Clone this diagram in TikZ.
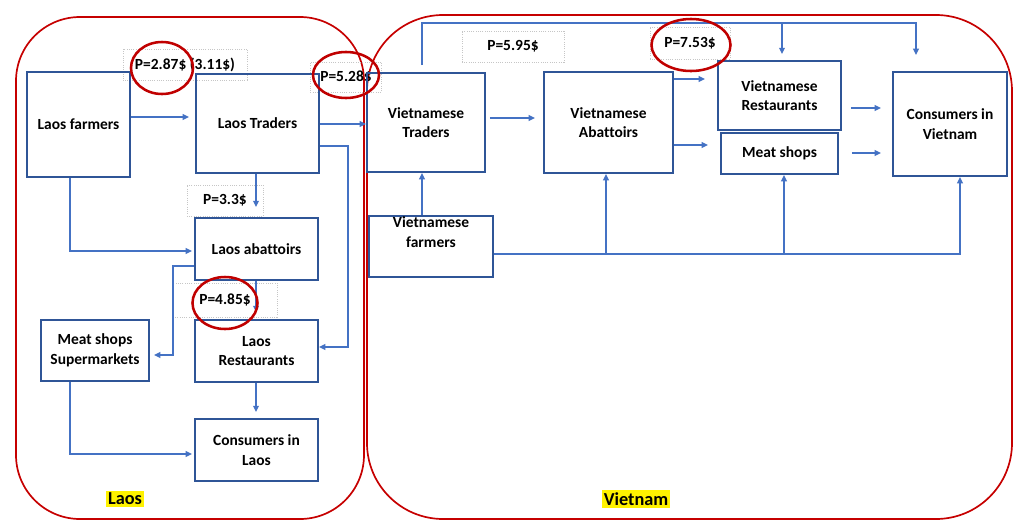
\documentclass[tikz,border=0pt]{standalone}
\usepackage{fontspec}
\setmainfont{Carlito}[Ligatures=NoCommon]
\usetikzlibrary{arrows.meta,shapes.geometric}
\definecolor{boxblue}{HTML}{2F5597}
\definecolor{linkblue}{HTML}{4472C4}
\definecolor{ringred}{HTML}{C00000}
\begin{document}
\begin{tikzpicture}[x=0.025cm,y=-0.025cm,
 box/.style={draw=boxblue,line width=1.3pt,align=center,font=\fontsize{11}{14}\selectfont\bfseries,inner sep=0pt},
 price/.style={draw=gray!45,densely dotted,line width=0.6pt,font=\fontsize{11}{14}\selectfont\bfseries,inner sep=0pt},
 ring/.style={draw=ringred,ellipse,line width=1.8pt,inner sep=0pt},
 conn/.style={draw=linkblue,line width=1pt,-{Triangle[length=4.5pt,width=4pt]}},
 frame/.style={draw=ringred!90!red,line width=1.2pt,rounded corners=#1},
 region/.style={fill=yellow,inner sep=1.5pt,font=\fontsize{13}{15}\selectfont\bfseries}]
 \useasboundingbox (0,0) rectangle (1015,521);

	\draw[frame=1.6cm] (16,17) rectangle (364,519);
	\draw[frame=1.9cm] (367,15) rectangle (1012,519);

	\node[price,minimum width=3.1cm,minimum height=0.775cm] (p1) at (185,64.5) {P=2.87\$ (3.11\$)};
	\node[price,minimum width=1.775cm,minimum height=0.75cm] (p2) at (346,77) {P=5.28\$};
	\node[price,minimum width=1.9cm,minimum height=0.775cm] (p3) at (225,200.5) {P=3.3\$};
	\node[price,minimum width=2.6cm,minimum height=0.85cm] (p4) at (225,300) {P=4.85\$};
	\node[price,minimum width=2.55cm,minimum height=0.775cm] (p5) at (513,46.5) {P=5.95\$};
	\node[price,minimum width=2cm,minimum height=0.8cm] (p6) at (690,43) {P=7.53\$};

	\node[box,minimum width=2.575cm,minimum height=2.625cm] (lf) at (78.5,124.5) {Laos farmers};
	\node[box,minimum width=3.075cm,minimum height=2.475cm] (lt) at (257.5,123.5) {Laos Traders};
	\node[box,minimum width=3.075cm,minimum height=1.55cm] (la) at (256.5,249) {Laos abattoirs};
	\node[box,minimum width=2.7cm,minimum height=1.525cm] (lm) at (95,350.5) {Meat shops\\Supermarkets};
	\node[box,minimum width=3.075cm,minimum height=1.55cm] (lr) at (256.5,351) {Laos\\Restaurants};
	\node[box,minimum width=3.075cm,minimum height=1.55cm] (lc) at (256.5,450) {Consumers in\\Laos};
	\node[box,minimum width=2.95cm,minimum height=2.475cm] (vt) at (426,122.5) {Vietnamese\\Traders};
	\node[box,minimum width=3.225cm,minimum height=2.525cm] (va) at (608.5,122.5) {Vietnamese\\Abattoirs};
	\node[box,minimum width=3.1cm,minimum height=1.525cm,
	 label={[box,draw=none,yshift=0.36cm,name=vftxt]center:{Vietnamese\\farmers}}] (vf) at (431,246.5) {};
	\node[box,minimum width=3.075cm,minimum height=1.725cm] (vr) at (779.5,95.5) {Vietnamese\\Restaurants};
	\node[box,minimum width=2.925cm,minimum height=1.025cm] (vm) at (779.5,153.5) {Meat shops};
	\node[box,minimum width=2.85cm,minimum height=2.6cm] (vc) at (950,124) {Consumers in\\Vietnam};

	\node[region] (laoslbl) at (125,499) {Laos};
	\node[region] (vnlbl) at (636,499) {Vietnam};

	% Laos side
	\draw[conn,shorten >=0.15cm] (lf.east |- 0,117) -- (lt.west |- 0,117);
	\draw[conn] (lt.east |- 0,124) -- (vt.west |- 0,124);
	\draw[conn] (lt.east |- 0,146) -- (348,146) |- (lr.east |- 0,347);
	\draw[conn,shorten >=0.25cm] (lt.south -| 256,0) -- (la.north -| 256,0);
	\draw[conn,shorten >=0.05cm] (lf.south -| 70,0) |- (la.west |- 0,251);
	\draw[conn,shorten >=0.1cm] (la.west |- 0,266) -- (173,266) |- (lm.east |- 0,355);
	\draw[conn,shorten >=0.175cm] (la.south -| 256,0) -- (lr.north -| 256,0);
	\draw[conn,shorten >=0.15cm] (lr.south -| 256,0) -- (lc.north -| 256,0);
	\draw[conn,shorten >=0.05cm] (lm.south -| 70,0) |- (lc.west |- 0,454);

	% Vietnam side
	\draw[conn] (vf.north -| 422,0) -- (vt.south -| 422,0);
	\draw[conn,shorten <=0.1cm,shorten >=0.2cm] (vt.east |- 0,118) -- (va.west |- 0,118);
	\draw[conn] (vf.east |- 0,254) -| (va.south -| 606,0);
	\draw[conn] (vf.east |- 0,254) -| (vm.south -| 784,0);
	\draw[conn] (vf.east |- 0,254) -| (vc.south -| 960,0);
	\draw[conn,shorten <=0.175cm,shorten >=0.4cm] (vt.north -| 422,0) -- (422,23) -| (vc.north -| 916,0);
	\draw[conn,shorten >=0.15cm] (782,23) -- (vr.north -| 782,0);
	\draw[conn,shorten >=0.3cm] (va.east |- 0,79) -- (vr.west |- 0,79);
	\draw[conn,shorten >=0.3cm] (va.east |- 0,145) -- (vm.west |- 0,145);
	\draw[conn,shorten <=0.225cm,shorten >=0.275cm] (vr.east |- 0,108) -- (vc.west |- 0,108);
	\draw[conn,shorten <=0.325cm,shorten >=0.275cm] (vm.east |- 0,153) -- (vc.west |- 0,153);

	\node[ring,minimum width=1.55cm,minimum height=1.3cm] (r1) at (162,68) {};
	\node[ring,minimum width=1.65cm,minimum height=1.15cm] (r2) at (346,75) {};
	\node[ring,minimum width=1.625cm,minimum height=1.3cm] (r3) at (225,303) {};
	\node[ring,minimum width=1.975cm,minimum height=1.3cm] (r4) at (691,45) {};
 	\end{tikzpicture}
\end{document}
